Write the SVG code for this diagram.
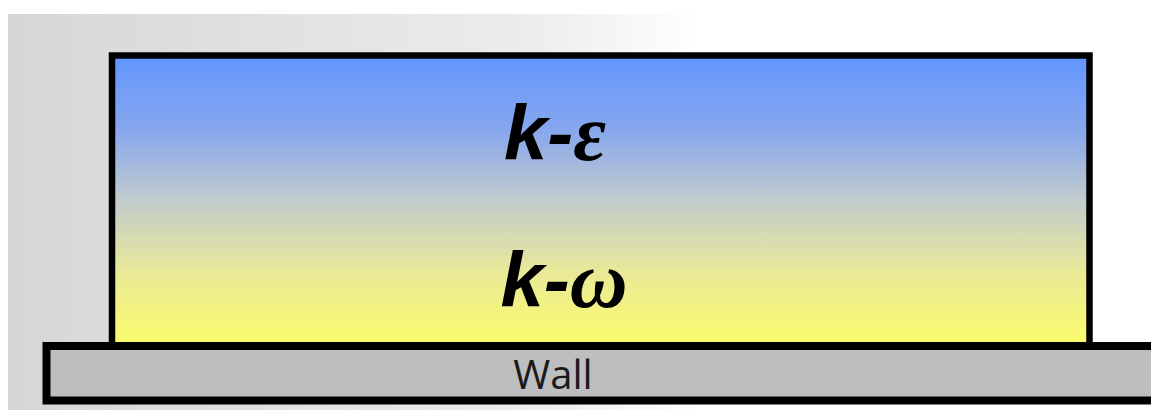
<svg xmlns="http://www.w3.org/2000/svg" width="1151" height="410" viewBox="0 0 1151 410">
  <defs>
    <linearGradient id="bg" gradientUnits="userSpaceOnUse" x1="8" y1="0" x2="700" y2="0">
      <stop offset="0" stop-color="#d6d6d6"/>
      <stop offset="0.75" stop-color="#ececec"/>
      <stop offset="1" stop-color="#ffffff"/>
    </linearGradient>
    <linearGradient id="fluid" x1="0" y1="0" x2="0" y2="1">
      <stop offset="0" stop-color="#6296fe"/>
      <stop offset="0.25" stop-color="#86a6ee"/>
      <stop offset="0.5" stop-color="#c2cccc"/>
      <stop offset="0.75" stop-color="#eaea96"/>
      <stop offset="1" stop-color="#fcfc6a"/>
    </linearGradient>
    <style>
      .model { font-family: "Liberation Sans", Arial, sans-serif; font-weight: bold; font-style: italic; font-size: 78px; fill: #000; text-anchor: middle; }
      .greek { font-family: "Liberation Serif", "Times New Roman", serif; font-size: 80px; }
      .wall { font-family: "Open Sans", "Liberation Sans", sans-serif; font-size: 40px; fill: #1a1a1a; text-anchor: middle; }
    </style>
  </defs>
  <rect x="0" y="0" width="1151" height="410" fill="#ffffff"/>
  <rect x="8" y="14" width="1143" height="396" fill="url(#bg)"/>
  <g id="fluid-domain">
    <rect x="112" y="55.5" width="977.5" height="292" fill="url(#fluid)" stroke="#000" stroke-width="6.5"/>
    <text class="model" x="555" y="160">k-<tspan class="greek">ε</tspan></text>
    <text class="model" x="564" y="307">k-<tspan class="greek">ω</tspan></text>
  </g>
  <g id="wall">
    <rect x="46.5" y="346" width="1120" height="54.5" fill="#bdbebf" stroke="#000" stroke-width="8"/>
    <text class="wall" x="553" y="389">Wall</text>
  </g>
</svg>
